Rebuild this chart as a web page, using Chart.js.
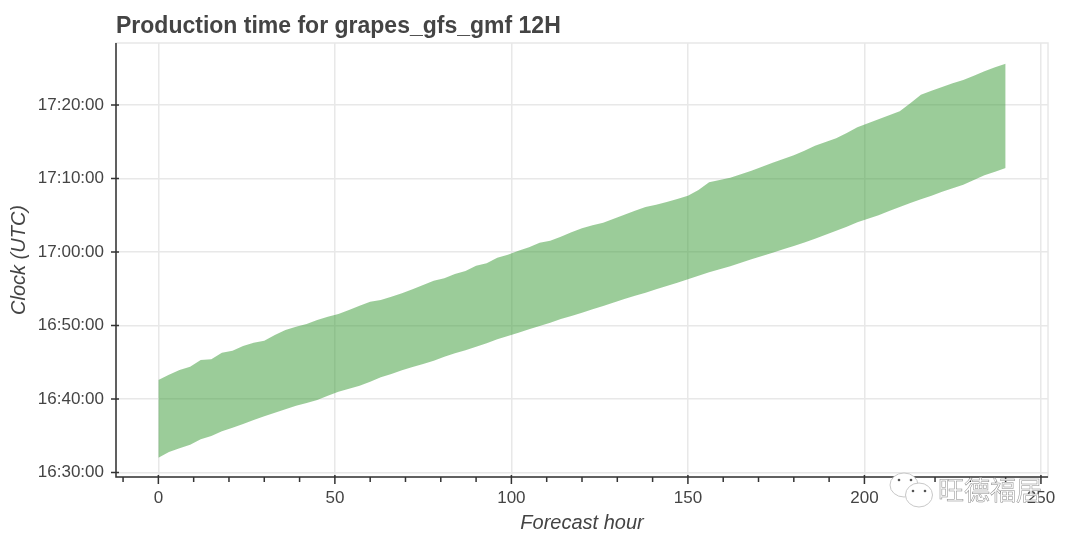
<!DOCTYPE html>
<html>
<head>
<meta charset="utf-8">
<title>Production time</title>
<script src="https://cdn.jsdelivr.net/npm/chart.js@4"></script>
<style>
  html, body { margin: 0; padding: 0; background: #ffffff; }
  canvas { display: block; }
</style>
</head>
<body>
<canvas id="chart" width="1080" height="540"></canvas>
<script>
// forecast hours, 3 hourly
const forecastHours = [
    0, 3, 6, 9, 12, 15, 18, 21, 24, 27, 30, 33, 36, 39, 42, 45, 48, 51, 54, 57,
    60, 63, 66, 69, 72, 75, 78, 81, 84, 87, 90, 93, 96, 99, 102, 105, 108, 111, 114, 117,
    120, 123, 126, 129, 132, 135, 138, 141, 144, 147, 150, 153, 156, 159, 162, 165, 168, 171, 174, 177,
    180, 183, 186, 189, 192, 195, 198, 201, 204, 207, 210, 213, 216, 219, 222, 225, 228, 231, 234, 237, 240
];

// clock values below are minutes after 16:00 UTC
const upperClock = [
    42.58, 43.31, 43.95, 44.39, 45.31, 45.40, 46.30, 46.57, 47.21, 47.66, 47.93, 48.71, 49.39, 49.84, 50.20, 50.75, 51.20, 51.56, 52.11, 52.69,
    53.24, 53.47, 53.92, 54.38, 54.92, 55.51, 56.09, 56.42, 57.01, 57.41, 58.14, 58.46, 59.22, 59.63, 60.18, 60.64, 61.27, 61.54, 62.08, 62.68,
    63.22, 63.63, 63.99, 64.53, 65.07, 65.62, 66.12, 66.44, 66.80, 67.21, 67.66, 68.43, 69.48, 69.79, 70.11, 70.57, 71.06, 71.60, 72.15, 72.65,
    73.16, 73.78, 74.46, 74.97, 75.47, 76.19, 76.97, 77.51, 78.05, 78.60, 79.14, 80.23, 81.40, 81.94, 82.45, 82.95, 83.40, 83.99, 84.58, 85.13, 85.62
];
const lowerClock = [
    32.01, 32.79, 33.29, 33.78, 34.52, 34.97, 35.61, 36.10, 36.60, 37.14, 37.65, 38.14, 38.60, 39.09, 39.46, 39.86, 40.45, 40.99, 41.40, 41.81,
    42.35, 42.95, 43.40, 43.90, 44.35, 44.76, 45.21, 45.75, 46.22, 46.63, 47.12, 47.58, 48.12, 48.57, 49.02, 49.48, 49.93, 50.38, 50.88, 51.29,
    51.74, 52.20, 52.65, 53.13, 53.60, 54.05, 54.46, 54.92, 55.37, 55.82, 56.29, 56.77, 57.23, 57.64, 58.05, 58.54, 59.01, 59.45, 59.90, 60.37,
    60.82, 61.29, 61.81, 62.35, 62.90, 63.44, 64.04, 64.53, 64.99, 65.58, 66.12, 66.67, 67.17, 67.66, 68.20, 68.66, 69.16, 69.79, 70.43, 70.93, 71.43
];

const xTicks = [0, 50, 100, 150, 200, 250];
const xMinorTicks = [-10, 10, 20, 30, 40, 60, 70, 80, 90, 110, 120, 130, 140, 160, 170, 180, 190, 210, 220, 230, 240];
const yTicks = [30, 40, 50, 60, 70, 80];
const yTickLabels = ['16:30:00', '16:40:00', '16:50:00', '17:00:00', '17:10:00', '17:20:00'];

const FONT = '"Liberation Sans", Arial, sans-serif';
const TEXT = '#444444';
const GRID = '#e8e8e8';

// bokeh style axes: ticks cross the axis line, frame around the plot
const axisPlugin = {
    id: 'axisPlugin',
    afterDatasetsDraw(chart) {
        const { ctx, chartArea: a, scales: { x, y } } = chart;
        ctx.save();
        ctx.strokeStyle = GRID;
        ctx.lineWidth = 1.5;
        ctx.strokeRect(a.left, a.top, a.right - a.left, a.bottom - a.top);

        ctx.strokeStyle = '#333333';
        ctx.lineWidth = 1.5;
        ctx.beginPath();
        ctx.moveTo(a.left, a.top);
        ctx.lineTo(a.left, a.bottom);
        ctx.lineTo(a.right, a.bottom);
        xTicks.forEach(v => {
            const px = x.getPixelForValue(v);
            ctx.moveTo(px, a.bottom - 2);
            ctx.lineTo(px, a.bottom + 7);
        });
        xMinorTicks.forEach(v => {
            const px = x.getPixelForValue(v);
            ctx.moveTo(px, a.bottom);
            ctx.lineTo(px, a.bottom + 5);
        });
        yTicks.forEach(v => {
            const py = y.getPixelForValue(v);
            ctx.moveTo(a.left - 5, py);
            ctx.lineTo(a.left + 3, py);
        });
        ctx.stroke();
        ctx.restore();
    }
};

// watermark sitting on top of the lower right corner
const watermarkPlugin = {
    id: 'watermarkPlugin',
    afterDraw(chart) {
        const ctx = chart.ctx;
        ctx.save();
        ctx.strokeStyle = '#c8c8c8';
        ctx.fillStyle = '#ffffff';
        ctx.lineWidth = 1;
        [[904, 485, 14, 12], [919, 495, 13.5, 12]].forEach(b => {
            ctx.beginPath();
            ctx.ellipse(b[0], b[1], b[2], b[3], 0, 0, Math.PI * 2);
            ctx.fill();
            ctx.stroke();
        });
        ctx.fillStyle = '#555555';
        [[899, 480], [911, 480], [913, 491], [925, 491]].forEach(p => {
            ctx.beginPath();
            ctx.arc(p[0], p[1], 1.3, 0, Math.PI * 2);
            ctx.fill();
        });
        ctx.font = '26px "Noto Sans CJK SC"';
        ctx.textBaseline = 'middle';
        ctx.fillStyle = '#ffffff';
        ctx.fillText('旺德福居', 938, 490);
        ctx.strokeStyle = '#8a8a8a';
        ctx.lineWidth = 0.5;
        ctx.strokeText('旺德福居', 938, 490);
        ctx.restore();
    }
};

new Chart(document.getElementById('chart'), {
    type: 'line',
    data: {
        datasets: [
            {
                label: 'lower',
                data: forecastHours.map((h, i) => ({ x: h, y: lowerClock[i] })),
                borderWidth: 0,
                pointRadius: 0,
                fill: false
            },
            {
                label: 'upper',
                data: forecastHours.map((h, i) => ({ x: h, y: upperClock[i] })),
                borderWidth: 0,
                pointRadius: 0,
                fill: { target: 0 },
                backgroundColor: 'rgba(55, 153, 51, 0.5)'
            }
        ]
    },
    options: {
        responsive: false,
        animation: false,
        layout: { padding: { left: 0, right: 32, top: 0, bottom: 0 } },
        plugins: {
            legend: { display: false },
            tooltip: { enabled: false },
            title: {
                display: true,
                text: 'Production time for grapes_gfs_gmf 12H',
                align: 'start',
                fullSize: false,
                color: TEXT,
                font: { family: FONT, size: 23, weight: 'bold' },
                padding: { top: 12.4, bottom: 3 }
            }
        },
        scales: {
            x: {
                type: 'linear',
                min: -12,
                max: 252,
                afterBuildTicks: axis => { axis.ticks = xTicks.map(v => ({ value: v })); },
                afterFit: axis => { axis.height = 63; },
                grid: { color: GRID, lineWidth: 1.5, drawTicks: false },
                border: { display: false },
                ticks: {
                    color: TEXT,
                    font: { family: FONT, size: 17 },
                    padding: 11,
                    maxRotation: 0,
                    autoSkip: false
                },
                title: {
                    display: true,
                    text: 'Forecast hour',
                    color: TEXT,
                    font: { family: FONT, size: 20, style: 'italic' },
                    padding: { top: 0, bottom: 5 }
                }
            },
            y: {
                type: 'linear',
                min: 29.39,
                max: 88.43,
                afterBuildTicks: axis => { axis.ticks = yTicks.map(v => ({ value: v })); },
                afterFit: axis => { axis.width = 116; },
                grid: { color: GRID, lineWidth: 1.5, drawTicks: false },
                border: { display: false },
                ticks: {
                    color: TEXT,
                    font: { family: FONT, size: 17 },
                    padding: 12,
                    autoSkip: false,
                    callback: value => yTickLabels[yTicks.indexOf(value)]
                },
                title: {
                    display: true,
                    text: 'Clock (UTC)',
                    color: TEXT,
                    font: { family: FONT, size: 20, style: 'italic' },
                    padding: { top: 7, bottom: 0 }
                }
            }
        }
    },
    plugins: [axisPlugin, watermarkPlugin]
});
</script>
</body>
</html>
